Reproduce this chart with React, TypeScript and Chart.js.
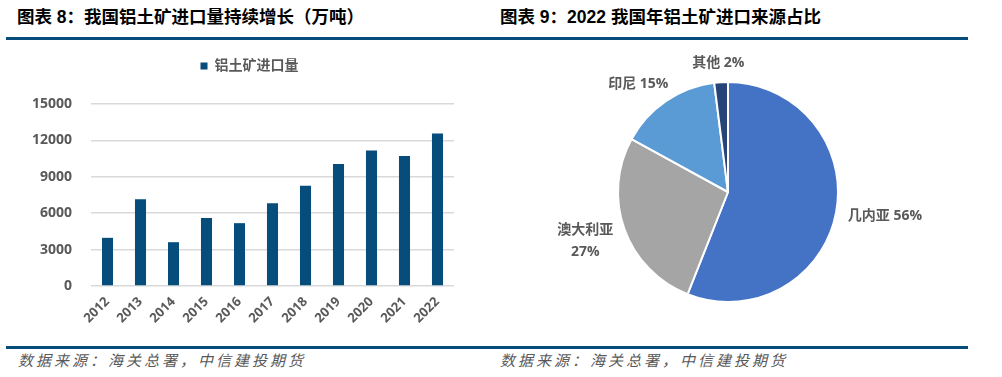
import React, { useEffect, useRef } from "react";
import { Chart, registerables } from "chart.js";

Chart.register(...registerables);

// ---- data ----
const years = ["2012", "2013", "2014", "2015", "2016", "2017", "2018", "2019", "2020", "2021", "2022"];
const importVolume = [3970, 7160, 3610, 5600, 5180, 6830, 8260, 10060, 11160, 10720, 12560];
const seriesName = "铝土矿进口量";
const yMin = 0;
const yMax = 15000;
const yStep = 3000;

const sourceNames = ["几内亚", "澳大利亚", "印尼", "其他"];
const sourceShares = [56, 27, 15, 2];
const sourceLabelWrap = [false, true, false, false];

const title1 = "图表 8：我国铝土矿进口量持续增长（万吨）";
const title2 = "图表 9：2022 我国年铝土矿进口来源占比";
const sourceNote = "数据来源：海关总署，中信建投期货";

// ---- styles ----
const NAVY = "#064D7C";
const GRAY_TEXT = "#595959";
const GRID = "#D9D9D9";
const FONT = "'Open Sans', 'Noto Sans CJK SC', sans-serif";
const pieColors = ["#4472C4", "#A5A5A5", "#5B9BD5", "#264478"];

// legend centred on the whole panel, drawn from the dataset's label and colour
const topLegendPlugin = {
  id: "topLegend",
  afterDraw(chart: any) {
    const ctx = chart.ctx;
    const ds = chart.data.datasets[0];
    const fontSize = 14;
    const box = 7;
    const gap = 7;
    ctx.save();
    ctx.font = `bold ${fontSize}px ${FONT}`;
    const tw = ctx.measureText(ds.label).width;
    const total = box + gap + tw;
    const x0 = chart.width / 2 - total / 2;
    const cy = 26;
    ctx.fillStyle = ds.backgroundColor;
    ctx.fillRect(x0, cy - box / 2, box, box);
    ctx.fillStyle = GRAY_TEXT;
    ctx.textAlign = "left";
    ctx.textBaseline = "middle";
    ctx.fillText(ds.label, x0 + box + gap, cy);
    ctx.restore();
  },
};

const pieLabelPlugin = {
  id: "pieLabels",
  afterDatasetsDraw(chart: any) {
    const ctx = chart.ctx;
    const meta = chart.getDatasetMeta(0);
    const fontSize = 14;
    const lineH = 22;
    ctx.save();
    ctx.font = `bold ${fontSize}px ${FONT}`;
    ctx.fillStyle = GRAY_TEXT;
    ctx.textAlign = "center";
    ctx.textBaseline = "middle";
    meta.data.forEach((arc: any, i: number) => {
      const p = arc.getProps(["x", "y", "startAngle", "endAngle", "outerRadius"], true);
      const mid = (p.startAngle + p.endAngle) / 2;
      const dx = Math.cos(mid);
      const dy = Math.sin(mid);
      const name = chart.data.labels[i];
      const val = chart.data.datasets[0].data[i] + "%";
      const lines = sourceLabelWrap[i] ? [name, val] : [name + " " + val];
      const w = Math.max(...lines.map((l: string) => ctx.measureText(l).width));
      const h = fontSize + (lines.length - 1) * lineH;
      const r = p.outerRadius + 12;
      const ax = p.x + dx * r;
      const ay = p.y + dy * r;
      const clamp = (v: number) => Math.max(-1, Math.min(1, v));
      const cx = ax + clamp(dx * 1.25) * (w / 2);
      const cy = ay + clamp(dy * 1.25) * (h / 2);
      lines.forEach((l: string, k: number) => {
        ctx.fillText(l, cx, cy - h / 2 + fontSize / 2 + k * lineH);
      });
    });
    ctx.restore();
  },
};

function BarChart() {
  const ref = useRef<HTMLCanvasElement>(null);
  useEffect(() => {
    const chart = new Chart(ref.current as HTMLCanvasElement, {
      type: "bar",
      data: {
        labels: years,
        datasets: [
          {
            label: seriesName,
            data: importVolume,
            backgroundColor: NAVY,
            categoryPercentage: 1,
            barPercentage: 0.335,
          },
        ],
      },
      options: {
        responsive: false,
        animation: false,
        layout: { padding: { top: 64, left: 0, right: 45, bottom: 0 } },
        plugins: {
          legend: { display: false },
          tooltip: { enabled: false },
        },
        scales: {
          x: {
            grid: { display: false, drawTicks: false },
            border: { display: false },
            ticks: {
              minRotation: 45,
              maxRotation: 45,
              autoSkip: false,
              padding: 8,
              color: GRAY_TEXT,
              font: { family: FONT, size: 13, weight: "bold" },
            },
            afterFit: (s: any) => {
              s.height = 54;
            },
          },
          y: {
            min: yMin,
            max: yMax,
            ticks: {
              stepSize: yStep,
              padding: 19,
              color: GRAY_TEXT,
              font: { family: FONT, size: 14, weight: "bold" },
              callback: (v: any) => String(v),
            },
            grid: { color: GRID, lineWidth: 1.5, drawTicks: false },
            border: { display: false },
            afterFit: (s: any) => {
              s.width = 91;
            },
          },
        },
      },
      plugins: [topLegendPlugin],
    });
    return () => chart.destroy();
  }, []);
  return (
    <canvas
      ref={ref}
      width={499}
      height={300}
      style={{ position: "absolute", left: 0, top: 40, width: 499, height: 300 }}
    />
  );
}

function PieChart() {
  const ref = useRef<HTMLCanvasElement>(null);
  useEffect(() => {
    const chart = new Chart(ref.current as HTMLCanvasElement, {
      type: "pie",
      data: {
        labels: sourceNames,
        datasets: [
          {
            data: sourceShares,
            backgroundColor: pieColors,
            borderColor: "#FFFFFF",
            borderWidth: 2,
          },
        ],
      },
      options: {
        responsive: false,
        animation: false,
        layout: { padding: { left: 117, right: 121, top: 41, bottom: 37 } },
        plugins: {
          legend: { display: false },
          tooltip: { enabled: false },
        },
      },
      plugins: [pieLabelPlugin],
    });
    return () => chart.destroy();
  }, []);
  return (
    <canvas
      ref={ref}
      width={460}
      height={300}
      style={{ position: "absolute", left: 500, top: 40, width: 460, height: 300 }}
    />
  );
}

const titleStyle: React.CSSProperties = {
  position: "absolute",
  top: 8,
  fontFamily: "'Liberation Sans', 'Noto Sans CJK SC', sans-serif",
  fontWeight: "bold",
  fontSize: 17.5,
  lineHeight: "18px",
  color: "#000",
  whiteSpace: "nowrap",
};

const noteStyle: React.CSSProperties = {
  position: "absolute",
  top: 352,
  fontFamily: "'Noto Sans CJK SC', sans-serif",
  fontStyle: "italic",
  fontSize: 15,
  lineHeight: "15px",
  letterSpacing: 3,
  color: GRAY_TEXT,
  whiteSpace: "nowrap",
};

export default function App() {
  return (
    <div
      style={{
        position: "absolute",
        left: 0,
        top: 0,
        width: 1002,
        height: 377,
        background: "#fff",
        overflow: "hidden",
      }}
    >
      <div style={{ ...titleStyle, left: 17 }}>{title1}</div>
      <div style={{ ...titleStyle, left: 500 }}>{title2}</div>
      <div style={{ position: "absolute", left: 6, top: 37, width: 962, height: 3, background: NAVY }} />
      <BarChart />
      <PieChart />
      <div style={{ position: "absolute", left: 6, top: 346, width: 962, height: 3, background: NAVY }} />
      <div style={{ ...noteStyle, left: 18 }}>{sourceNote}</div>
      <div style={{ ...noteStyle, left: 500 }}>{sourceNote}</div>
    </div>
  );
}
